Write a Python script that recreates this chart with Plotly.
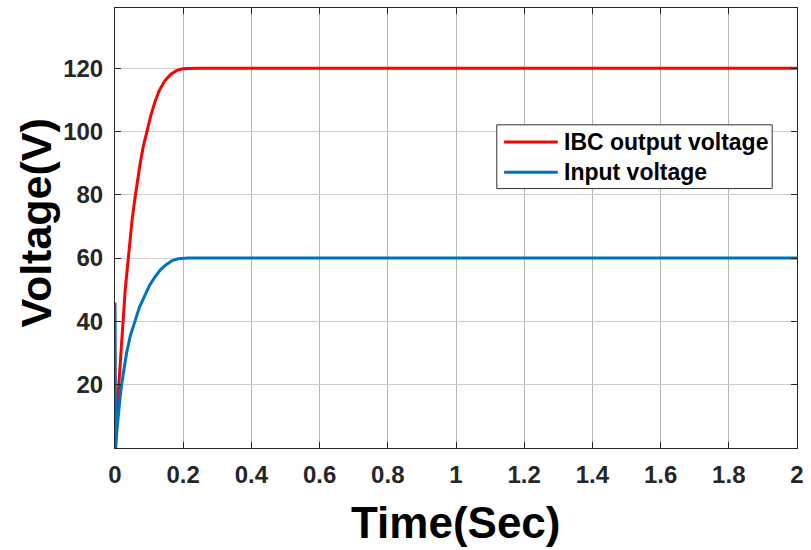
import plotly.graph_objects as go

# ---- data ----
t_out = [0.0, 0.008, 0.030, 0.040, 0.050, 0.058, 0.066, 0.074, 0.083, 0.093, 0.105, 0.117,
         0.130, 0.146, 0.163, 0.180, 0.195, 0.210, 0.250, 2.0]
v_out = [0.0, 15.0, 50.0, 62.0, 72.0, 78.5, 84.5, 90.0, 95.3, 100.0, 105.0, 109.3,
         113.0, 116.0, 118.0, 119.2, 119.7, 119.9, 120.0, 120.0]

t_in = [0.0, 0.002, 0.006, 0.010, 0.015, 0.020, 0.027, 0.034, 0.045, 0.058, 0.072,
        0.088, 0.102, 0.117, 0.133, 0.151, 0.168, 0.185, 0.200, 0.215, 2.0]
v_in = [46.0, 0.0, 6.0, 11.0, 16.0, 20.5, 25.5, 30.0, 35.5, 40.0, 44.5,
        48.3, 51.5, 54.0, 56.3, 58.0, 59.2, 59.8, 59.95, 60.0, 60.0]

x_ticks = [0, 0.2, 0.4, 0.6, 0.8, 1, 1.2, 1.4, 1.6, 1.8, 2]
x_labels = ["0", "0.2", "0.4", "0.6", "0.8", "1", "1.2", "1.4", "1.6", "1.8", "2"]
y_ticks = [20, 40, 60, 80, 100, 120]
y_labels = ["20", "40", "60", "80", "100", "120"]

series_names = ["IBC output voltage", "Input voltage"]
series_colors = ["#FF0000", "#0072BD"]

FONT = "Liberation Sans, Arial, sans-serif"

fig = go.Figure()
fig.add_trace(go.Scatter(x=t_out, y=v_out, mode="lines", name=series_names[0],
                         line=dict(color=series_colors[0], width=3), showlegend=False))
fig.add_trace(go.Scatter(x=t_in, y=v_in, mode="lines", name=series_names[1],
                         line=dict(color=series_colors[1], width=3), showlegend=False))

axis_common = dict(
    showline=True, linecolor="#262626", linewidth=1, mirror="ticks",
    ticks="inside", ticklen=6, tickcolor="#262626",
    tickfont=dict(family=FONT, size=24, color="#262626", weight="bold"),
    zeroline=False,
)

fig.update_xaxes(range=[0, 2], tickvals=x_ticks, ticktext=x_labels,
                 showgrid=True, gridcolor="#b5b5b5", gridwidth=1,
                 ticklabelstandoff=5, **axis_common)
fig.update_yaxes(range=[0, 139], tickvals=y_ticks, ticktext=y_labels,
                 showgrid=True, gridcolor="#cfcfcf", gridwidth=1,
                 ticklabelstandoff=6, **axis_common)

# custom legend (box, line samples, labels)
lx0, lx1, ly0, ly1 = 0.5598, 0.9636, 0.5896, 0.7345
fig.add_shape(type="rect", xref="paper", yref="paper", x0=lx0, x1=lx1, y0=ly0, y1=ly1,
              line=dict(color="#333333", width=1), fillcolor="white", layer="above")
row_y = [0.6957, 0.6269]
for name, col, yy in zip(series_names, series_colors, row_y):
    fig.add_shape(type="line", xref="paper", yref="paper", x0=0.5705, x1=0.6492,
                  y0=yy, y1=yy, line=dict(color=col, width=3), layer="above")
    fig.add_annotation(xref="paper", yref="paper", x=0.6560, y=yy, xanchor="left",
                       yanchor="middle", text=name, showarrow=False,
                       font=dict(family=FONT, size=23, color="black", weight="bold"))

# axis titles
fig.add_annotation(xref="paper", yref="paper", x=0.5, y=0, yanchor="top", yshift=-48,
                   text="Time(Sec)", showarrow=False,
                   font=dict(family=FONT, size=44, color="black", weight="bold"))
fig.add_annotation(xref="paper", yref="paper", x=0, y=0.51, xanchor="center",
                   yanchor="middle", xshift=-79, textangle=-90,
                   text="Voltage(V)", showarrow=False,
                   font=dict(family=FONT, size=43, color="black", weight="bold"))

fig.update_layout(
    width=811, height=550,
    margin=dict(l=115, r=10, t=7, b=102),
    plot_bgcolor="white", paper_bgcolor="white",
    showlegend=False,
)

fig.write_html("out.html")
